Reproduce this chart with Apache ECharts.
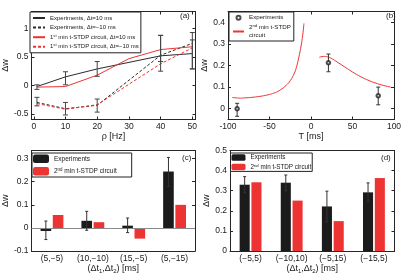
<!DOCTYPE html>
<html><head><meta charset="utf-8">
<script src="https://cdn.jsdelivr.net/npm/echarts@6/dist/echarts.min.js"></script>
<style>html,body{margin:0;padding:0;background:#fff}#c{width:415px;height:275px}</style>
</head><body><div id="c"></div>
<script>
// ---------- data (a) ----------
const aX = [1, 10, 20, 40, 50];
const aExpPos = [-0.02, 0.15, 0.29, 0.52, 0.56];
const aExpNeg = [-0.30, -0.41, -0.35, 0.53, 0.74];
const aCircPosX = [1, 10, 20, 30, 40, 50];
const aCircPos = [-0.03, -0.02, 0.18, 0.47, 0.63, 0.68];
const aCircNeg = [-0.32, -0.42, -0.34, 0.38, 0.66];
const aErrPosLow = [-0.07, 0.01, 0.16, 0.25, 0.29];
const aErrPosHigh = [0.01, 0.24, 0.42, 0.88, 0.93];
const aErrNegLow = [-0.36, -0.52, -0.47, 0.42, 0.29];
const aErrNegHigh = [-0.21, -0.30, -0.24, 0.88, 0.80];
const aXTicks = [0, 10, 20, 30, 40, 50];
const aYTicks = [-0.5, 0, 0.5, 1];
// ---------- data (b) ----------
const bExpT = [-89, 21, 81];
const bExpW = [0.0, 0.213, 0.06];
const bErrLow = [-0.035, 0.171, 0.018];
const bErrHigh = [0.025, 0.253, 0.10];
const bNegT = [-95, -90, -85, -80, -70, -60, -50, -45, -40, -35, -30, -25, -20, -17, -14, -12, -10, -8.5];
const bNegW = [0.052, 0.050, 0.049, 0.050, 0.053, 0.058, 0.066, 0.072, 0.080, 0.092, 0.108, 0.130, 0.165, 0.200, 0.250, 0.290, 0.340, 0.395];
const bPosT = [10, 15, 20, 25, 30, 40, 50, 60, 70, 80, 90, 96];
const bPosW = [0.238, 0.242, 0.240, 0.232, 0.220, 0.195, 0.170, 0.148, 0.130, 0.116, 0.105, 0.100];
const bXTicks = [-100, -50, 0, 50, 100];
const bYTicks = [0, 0.1, 0.2, 0.3, 0.4];
// ---------- data (c) ----------
const cCats = ['(5,−5)', '(10,−10)', '(15,−5)', '(5,−15)'];
const cExp = [-0.013, 0.031, 0.010, 0.244];
const cCirc = [0.056, 0.025, -0.046, 0.100];
const cErrLow = [-0.05, -0.01, -0.02, 0.18];
const cErrHigh = [0.03, 0.072, 0.043, 0.305];
const cYTicks = [-0.1, 0, 0.1, 0.2, 0.3];
// ---------- data (d) ----------
const dCats = ['(−5,5)', '(−10,10)', '(−5,15)', '(−15,5)'];
const dExp = [0.330, 0.340, 0.222, 0.292];
const dCirc = [0.342, 0.251, 0.149, 0.363];
const dErrLow = [0.29, 0.30, 0.145, 0.245];
const dErrHigh = [0.370, 0.378, 0.298, 0.339];
const dYTicks = [0, 0.1, 0.2, 0.3, 0.4, 0.5];

const FONT = "'Liberation Sans', Arial, sans-serif";
const TXT = '#1a1a1a';
const AX = '#262626';
const RED = '#ee3333';
const BLK = '#1b1b1b';

const chart = echarts.init(document.getElementById('c'), null, {renderer: 'canvas'});

function pairs(xs, ys) { return xs.map((x, i) => [x, ys[i]]); }

function valAxis(grid, pos, min, max, ticks, opts) {
  opts = opts || {};
  const main = pos === 'bottom' || pos === 'left';
  return Object.assign({
    type: 'value', gridIndex: grid, position: pos, min: min, max: max,
    axisLine: {show: true, onZero: false, lineStyle: {color: AX, width: 1}},
    axisTick: {show: true, inside: true, length: 3, customValues: ticks, lineStyle: {color: AX}},
    axisLabel: {show: main, customValues: ticks, fontSize: 8.5, color: TXT, fontFamily: FONT, margin: 3},
    splitLine: {show: false}
  }, opts);
}
function catAxis(grid, pos, cats, opts) {
  const main = pos === 'bottom';
  return Object.assign({
    type: 'category', gridIndex: grid, position: pos, data: cats,
    axisLine: {show: true, onZero: false, lineStyle: {color: AX, width: 1}},
    axisTick: {show: false},
    axisLabel: {show: main, interval: 0, fontSize: 8.5, color: TXT, fontFamily: FONT, margin: 3},
    splitLine: {show: false}
  }, opts || {});
}

function errSeries(name, xi, yi, xs, lows, highs, cap, color, offsetFrac) {
  return {
    type: 'custom', name: name, xAxisIndex: xi, yAxisIndex: yi, z: 5, silent: true,
    data: xs.map((x, i) => [x, lows[i], highs[i]]),
    renderItem: function (params, api) {
      const lo = api.coord([api.value(0), api.value(1)]);
      const hi = api.coord([api.value(0), api.value(2)]);
      let dx = 0;
      if (offsetFrac) dx = offsetFrac * api.size([1, 0])[0];
      const x = lo[0] + dx;
      const st = {stroke: color, lineWidth: 1};
      return {type: 'group', children: [
        {type: 'line', shape: {x1: x, y1: lo[1], x2: x, y2: hi[1]}, style: st},
        {type: 'line', shape: {x1: x - cap / 2, y1: lo[1], x2: x + cap / 2, y2: lo[1]}, style: st},
        {type: 'line', shape: {x1: x - cap / 2, y1: hi[1], x2: x + cap / 2, y2: hi[1]}, style: st}
      ]};
    }
  };
}

const nameStyle = {fontSize: 9, color: TXT, fontFamily: FONT};
const subName = '(Δt{sub|1},Δt{sub|2}) [ms]';
const subRich = {sub: {fontSize: 6, color: TXT, fontFamily: FONT, padding: [5, 0, 0, 0]}};
function legText(fs, lh) {
  return {fontSize: fs, lineHeight: lh, color: TXT, fontFamily: FONT,
    rich: {sup: {fontSize: fs * 0.68, lineHeight: 4, color: TXT, fontFamily: FONT, padding: [0, 0, 3, 0]}}};
}

const legendNames = {
  'ExpPos': 'Experiments, Δt=10 ms',
  'ExpNeg': 'Experiments, Δt=−10 ms',
  'CircPos': '1{sup|st} min t-STDP circuit, Δt=10 ms',
  'CircNeg': '1{sup|st} min t-STDP circuit, Δt=−10 ms',
  'ExpB': 'Experiments',
  'CircB': '2{sup|nd} min t-STDP\ncircuit',
  'ExpC': 'Experiments',
  'CircC': '2{sup|nd} min t-STDP circuit',
  'ExpD': 'Experiments',
  'CircD': '2{sup|nd} min t-STDP circuit'
};
function legendBase(extra) {
  return Object.assign({
    orient: 'vertical', backgroundColor: '#fff', borderColor: '#222', borderWidth: 1, borderRadius: 0,
    selectedMode: false, formatter: n => legendNames[n]
  }, extra);
}
const noSym = {color: 'rgba(0,0,0,0)', borderWidth: 0};

const option = {
  animation: false,
  backgroundColor: '#fff',
  textStyle: {fontFamily: FONT},
  title: [
    {text: '(a)', left: 180, top: 12, padding: 0, textStyle: {fontSize: 8, fontWeight: 'normal', color: TXT, fontFamily: FONT}},
    {text: '(b)', left: 386, top: 12, padding: 0, textStyle: {fontSize: 8, fontWeight: 'normal', color: TXT, fontFamily: FONT}},
    {text: '(c)', left: 182, top: 154, padding: 0, textStyle: {fontSize: 8, fontWeight: 'normal', color: TXT, fontFamily: FONT}},
    {text: '(d)', left: 381, top: 154, padding: 0, textStyle: {fontSize: 8, fontWeight: 'normal', color: TXT, fontFamily: FONT}}
  ],
  grid: [
    {left: 29.5, top: 11.5, width: 166, height: 108},
    {left: 228, top: 11.5, width: 166, height: 108},
    {left: 31.5, top: 150.5, width: 163.5, height: 101},
    {left: 230, top: 150.5, width: 164.5, height: 101}
  ],
  xAxis: [
    valAxis(0, 'bottom', -0.7, 51, aXTicks, {name: 'ρ [Hz]', nameLocation: 'middle', nameGap: 12, nameTextStyle: nameStyle}),
    valAxis(0, 'top', -0.7, 51, aXTicks),
    valAxis(1, 'bottom', -100, 100, bXTicks, {name: 'T [ms]', nameLocation: 'middle', nameGap: 12, nameTextStyle: nameStyle}),
    valAxis(1, 'top', -100, 100, bXTicks),
    catAxis(2, 'bottom', cCats, {name: subName, nameLocation: 'middle', nameGap: 10, nameTextStyle: Object.assign({rich: subRich}, nameStyle)}),
    catAxis(2, 'top', cCats),
    catAxis(3, 'bottom', dCats, {name: subName, nameLocation: 'middle', nameGap: 10, nameTextStyle: Object.assign({rich: subRich}, nameStyle)}),
    catAxis(3, 'top', dCats)
  ],
  yAxis: [
    valAxis(0, 'left', -0.6, 1.3, aYTicks, {name: 'Δw', nameLocation: 'middle', nameGap: 17, nameTextStyle: nameStyle}),
    valAxis(0, 'right', -0.6, 1.3, aYTicks),
    valAxis(1, 'left', -0.05, 0.45, bYTicks, {name: 'Δw', nameLocation: 'middle', nameGap: 15, nameTextStyle: nameStyle}),
    valAxis(1, 'right', -0.05, 0.45, bYTicks),
    valAxis(2, 'left', -0.1, 0.335, cYTicks, {name: 'Δw', nameLocation: 'middle', nameGap: 18, nameTextStyle: nameStyle}),
    valAxis(2, 'right', -0.1, 0.335, cYTicks),
    valAxis(3, 'left', 0, 0.5, dYTicks, {name: 'Δw', nameLocation: 'middle', nameGap: 18, nameTextStyle: nameStyle}),
    valAxis(3, 'right', 0, 0.5, dYTicks)
  ],
  legend: [
    legendBase({data: [{name: 'ExpPos', itemStyle: noSym}, {name: 'ExpNeg', itemStyle: noSym}, {name: 'CircPos', itemStyle: noSym}, {name: 'CircNeg', itemStyle: noSym}],
      left: 30, top: 12, itemWidth: 12, itemHeight: 6, itemGap: 1.6, padding: [2, 2, 2, 2], textStyle: legText(6.0, 8)}),
    legendBase({data: [{name: 'ExpB', icon: 'emptyCircle'}, {name: 'CircB', itemStyle: noSym}], left: 229, top: 12, itemWidth: 11, itemHeight: 4, itemGap: 2.5, padding: [2, 3, 2, 3], textStyle: legText(6.2, 7.5)}),
    legendBase({data: ['ExpC', 'CircC'], left: 32, top: 153, itemWidth: 16, itemHeight: 8.5, itemGap: 4, padding: [1.5, 15, 1.5, 1], textStyle: legText(6.5, 8)}),
    legendBase({data: ['ExpD', 'CircD'], left: 230.5, top: 153, itemWidth: 14, itemHeight: 6.5, itemGap: 2.4, padding: [1, 1, 1, 1], textStyle: legText(6.3, 7)})
  ],
  series: [
    {type: 'line', name: 'ExpPos', xAxisIndex: 0, yAxisIndex: 0, data: pairs(aX, aExpPos), symbol: 'none', lineStyle: {color: '#2a2a2a', width: 1}, itemStyle: {color: '#2a2a2a'}},
    {type: 'line', name: 'ExpNeg', xAxisIndex: 0, yAxisIndex: 0, data: pairs(aX, aExpNeg), symbol: 'none', lineStyle: {color: '#2a2a2a', width: 1, type: [3, 2]}, itemStyle: {color: '#2a2a2a'}},
    {type: 'line', name: 'CircPos', xAxisIndex: 0, yAxisIndex: 0, data: pairs(aCircPosX, aCircPos), symbol: 'none', lineStyle: {color: RED, width: 1}, itemStyle: {color: RED}},
    {type: 'line', name: 'CircNeg', xAxisIndex: 0, yAxisIndex: 0, data: pairs(aX, aCircNeg), symbol: 'none', lineStyle: {color: RED, width: 1, type: [3, 2]}, itemStyle: {color: RED}},
    errSeries('errA1', 0, 0, aX, aErrPosLow, aErrPosHigh, 5, '#444'),
    errSeries('errA2', 0, 0, aX, aErrNegLow, aErrNegHigh, 5, '#444'),
    {type: 'line', name: 'CircB', xAxisIndex: 2, yAxisIndex: 2, data: pairs(bNegT, bNegW), symbol: 'none', smooth: true, lineStyle: {color: RED, width: 1}, itemStyle: {color: RED}},
    {type: 'line', name: 'CircB2', xAxisIndex: 2, yAxisIndex: 2, data: pairs(bPosT, bPosW), symbol: 'none', smooth: true, lineStyle: {color: RED, width: 1}, itemStyle: {color: RED}},
    errSeries('errB', 2, 2, bExpT, bErrLow, bErrHigh, 4, '#333'),
    {type: 'scatter', name: 'ExpB', xAxisIndex: 2, yAxisIndex: 2, data: pairs(bExpT, bExpW), symbol: 'emptyCircle', symbolSize: 3.5, z: 6, itemStyle: {color: '#222', borderColor: '#222', borderWidth: 1}},
    {type: 'bar', name: 'ExpC', xAxisIndex: 4, yAxisIndex: 4, data: cExp, barWidth: '26%', barGap: '15%', itemStyle: {color: BLK},
      markLine: {silent: true, symbol: 'none', label: {show: false}, lineStyle: {color: '#8a8a8a', type: 'solid', width: 1}, data: [{yAxis: 0}]}},
    {type: 'bar', name: 'CircC', xAxisIndex: 4, yAxisIndex: 4, data: cCirc, barWidth: '26%', barGap: '15%', itemStyle: {color: RED}},
    errSeries('errC', 4, 4, [0, 1, 2, 3], cErrLow, cErrHigh, 3, '#333', -0.575 * 0.26),
    {type: 'bar', name: 'ExpD', xAxisIndex: 6, yAxisIndex: 6, data: dExp, barWidth: '24.5%', barGap: '17%', itemStyle: {color: BLK}},
    {type: 'bar', name: 'CircD', xAxisIndex: 6, yAxisIndex: 6, data: dCirc, barWidth: '24.5%', barGap: '17%', itemStyle: {color: RED}},
    errSeries('errD', 6, 6, [0, 1, 2, 3], dErrLow, dErrHigh, 3, '#333', -0.585 * 0.245)
  ]
};
chart.setOption(option);
</script></body></html>
